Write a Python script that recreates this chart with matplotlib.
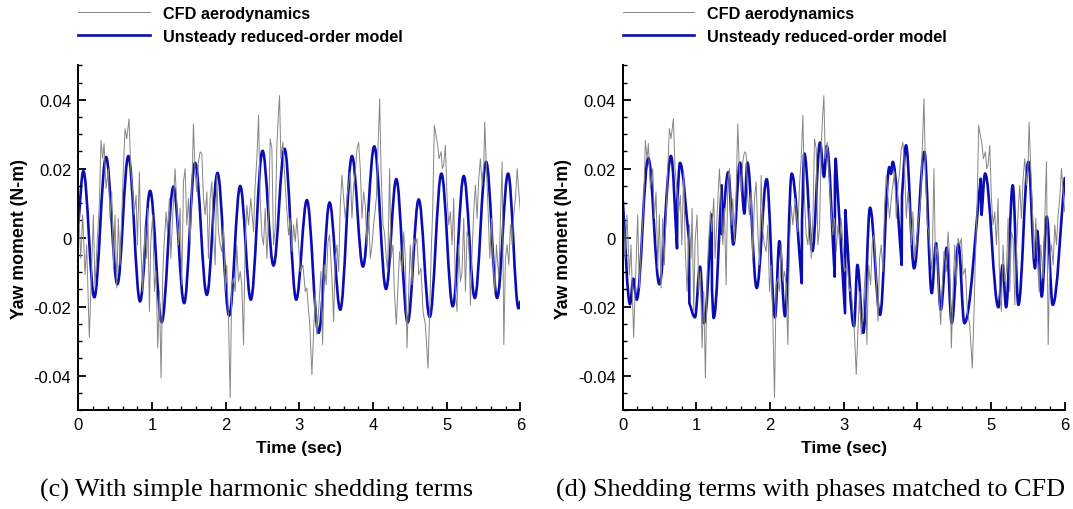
import numpy as np
import matplotlib
matplotlib.use("Agg")
import matplotlib.pyplot as plt
from matplotlib.path import Path
from matplotlib.patches import PathPatch
from matplotlib.ticker import MultipleLocator, FixedLocator, FixedFormatter

# CFD yaw moment (same signal in both panels)
cfd_t = [0.000, 0.032, 0.059, 0.091, 0.113, 0.149, 0.172, 0.204, 0.226, 0.258, 0.285, 0.308, 0.331, 0.349,
         0.376, 0.408, 0.430, 0.453, 0.476, 0.498, 0.521, 0.543, 0.566, 0.589, 0.611, 0.634, 0.657, 0.688,
         0.711, 0.738, 0.756, 0.784, 0.802, 0.829, 0.847, 0.874, 0.906, 0.928, 0.942, 0.965, 0.983, 1.010,
         1.033, 1.055, 1.078, 1.101, 1.123, 1.146, 1.164, 1.191, 1.209, 1.236, 1.255, 1.282, 1.313, 1.336,
         1.359, 1.381, 1.404, 1.427, 1.449, 1.472, 1.495, 1.517, 1.540, 1.562, 1.585, 1.608, 1.630, 1.653,
         1.676, 1.698, 1.721, 1.744, 1.766, 1.789, 1.812, 1.834, 1.857, 1.880, 1.902, 1.925, 1.947, 1.970,
         1.993, 2.015, 2.038, 2.061, 2.083, 2.106, 2.129, 2.151, 2.174, 2.197, 2.219, 2.242, 2.264, 2.287,
         2.310, 2.341, 2.378, 2.400, 2.423, 2.446, 2.468, 2.491, 2.514, 2.536, 2.559, 2.582, 2.604, 2.627,
         2.649, 2.672, 2.695, 2.717, 2.731, 2.749, 2.776, 2.794, 2.822, 2.853, 2.876, 2.899, 2.921, 2.944,
         2.966, 2.989, 3.012, 3.048, 3.080, 3.102, 3.125, 3.139, 3.170, 3.193, 3.216, 3.238, 3.261, 3.293,
         3.315, 3.338, 3.365, 3.388, 3.410, 3.442, 3.465, 3.487, 3.510, 3.533, 3.555, 3.578, 3.601, 3.623,
         3.655, 3.691, 3.714, 3.737, 3.759, 3.782, 3.804, 3.827, 3.850, 3.872, 3.895, 3.918, 3.940, 3.963,
         3.986, 4.008, 4.045, 4.062, 4.090, 4.108, 4.135, 4.153, 4.180, 4.198, 4.225, 4.244, 4.271, 4.289,
         4.316, 4.339, 4.361, 4.393, 4.416, 4.438, 4.461, 4.484, 4.506, 4.529, 4.552, 4.575, 4.597, 4.620,
         4.651, 4.678, 4.710, 4.746, 4.769, 4.787, 4.810, 4.832, 4.855, 4.878, 4.896, 4.923, 4.941, 4.959,
         4.982, 5.005, 5.027, 5.050, 5.073, 5.095, 5.118, 5.140, 5.163, 5.186, 5.208, 5.231, 5.254, 5.276,
         5.299, 5.322, 5.344, 5.367, 5.389, 5.412, 5.435, 5.457, 5.480, 5.503, 5.516, 5.539, 5.562, 5.584,
         5.607, 5.629, 5.652, 5.675, 5.707, 5.729, 5.752, 5.775, 5.797, 5.820, 5.843, 5.865, 5.888, 5.910,
         5.933, 5.956, 5.978, 6.000]
cfd_v = [0.0104, -0.0060, 0.0066, -0.0108, -0.0021, -0.0289, -0.0137, 0.0066, -0.0146, -0.0002, 0.0094,
         0.0282, 0.0229, 0.0273, 0.0143, 0.0200, 0.0056, 0.0133, -0.0089, 0.0066, -0.0146, 0.0056, -0.0079,
         0.0066, 0.0200, 0.0316, 0.0287, 0.0345, 0.0200, 0.0133, 0.0066, 0.0123, -0.0021, 0.0191, -0.0021,
         -0.0156, 0.0037, -0.0060, 0.0085, -0.0214, -0.0012, 0.0066, -0.0156, -0.0098, -0.0320, -0.0156,
         -0.0407, -0.0108, -0.0021, 0.0075, 0.0017, 0.0114, -0.0060, 0.0066, 0.0200, 0.0104, -0.0021, 0.0085,
         -0.0137, 0.0162, 0.0200, 0.0037, 0.0114, -0.0012, 0.0133, 0.0330, 0.0191, 0.0133, 0.0220, 0.0249,
         0.0244, 0.0114, 0.0066, 0.0133, -0.0060, 0.0114, 0.0162, 0.0017, -0.0079, 0.0181, 0.0017, -0.0021,
         -0.0040, 0.0037, -0.0156, -0.0079, -0.0233, -0.0464, -0.0137, -0.0118, -0.0156, -0.0021, -0.0127,
         -0.0098, -0.0137, -0.0310, -0.0021, 0.0094, 0.0037, 0.0114, 0.0017, 0.0152, 0.0229, 0.0355, 0.0114,
         0.0008, -0.0021, 0.0085, -0.0060, 0.0056, 0.0287, 0.0258, -0.0021, 0.0027, 0.0268, 0.0364, 0.0412,
         0.0229, 0.0277, 0.0210, 0.0104, 0.0008, 0.0056, -0.0040, 0.0037, -0.0012, 0.0056, -0.0021, -0.0098,
         -0.0079, -0.0156, -0.0146, -0.0214, -0.0243, -0.0397, -0.0272, -0.0156, -0.0281, -0.0214, -0.0098,
         -0.0310, -0.0079, -0.0137, -0.0012, 0.0008, -0.0118, -0.0243, -0.0060, -0.0021, -0.0098, 0.0094,
         0.0181, 0.0114, 0.0056, 0.0133, 0.0191, 0.0056, 0.0152, 0.0191, 0.0258, 0.0277, 0.0200, 0.0056,
         0.0133, 0.0094, -0.0021, 0.0075, -0.0060, -0.0021, 0.0037, 0.0114, 0.0229, 0.0403, 0.0200, 0.0037,
         0.0017, -0.0060, -0.0098, 0.0200, -0.0060, -0.0021, -0.0156, -0.0252, -0.0137, -0.0040, -0.0098,
         0.0017, -0.0060, -0.0320, -0.0156, -0.0021, -0.0137, -0.0002, -0.0021, -0.0002, -0.0108, -0.0089,
         -0.0214, -0.0252, -0.0378, -0.0214, -0.0060, 0.0085, 0.0326, 0.0297, 0.0268, 0.0229, 0.0249, 0.0200,
         0.0210, 0.0268, 0.0114, 0.0037, 0.0075, -0.0021, 0.0114, -0.0156, -0.0214, -0.0021, -0.0127, -0.0098,
         0.0056, -0.0156, 0.0017, -0.0002, -0.0195, -0.0040, 0.0075, 0.0152, 0.0056, 0.0171, 0.0229, 0.0152,
         0.0210, 0.0335, 0.0200, 0.0075, -0.0060, 0.0056, -0.0060, -0.0156, -0.0021, -0.0118, 0.0056, 0.0220,
         -0.0310, -0.0060, -0.0021, -0.0079, 0.0037, -0.0021, 0.0066, 0.0114, 0.0200, 0.0133, 0.0075]

# (c) simple harmonic model: start, peaks/troughs, end
rom_c_t = [0.000, 0.068, 0.217, 0.376, 0.530, 0.679, 0.838, 0.974, 1.132, 1.291, 1.436, 1.585, 1.744,
           1.889, 2.047, 2.197, 2.341, 2.500, 2.649, 2.799, 2.957, 3.102, 3.261, 3.410, 3.555, 3.714,
           3.863, 4.017, 4.176, 4.316, 4.470, 4.620, 4.769, 4.928, 5.082, 5.231, 5.381, 5.535, 5.684,
           5.833, 5.975, 6.000]
rom_c_v = [0.0040, 0.0193, -0.0173, 0.0234, -0.0135, 0.0237, -0.0185, 0.0136, -0.0245, 0.0148, -0.0190,
           0.0217, -0.0166, 0.0188, -0.0226, 0.0150, -0.0180, 0.0252, -0.0081, 0.0258, -0.0180, 0.0109,
           -0.0276, 0.0102, -0.0209, 0.0237, -0.0084, 0.0265, -0.0149, 0.0170, -0.0246, 0.0111, -0.0230,
           0.0186, -0.0199, 0.0179, -0.0175, 0.0220, -0.0175, 0.0186, -0.0205, -0.0185]

# (d) phase-matched model: start, peaks/troughs, phase jumps (pairs of close times), end
rom_d_t = [0.000, 0.100, 0.145, 0.190, 0.348, 0.498, 0.656, 0.738, 0.742, 0.778, 0.900, 0.905, 0.982,
           1.050, 1.104, 1.208, 1.212, 1.235, 1.344, 1.348, 1.434, 1.502, 1.593, 1.652, 1.692, 1.819,
           1.955, 2.068, 2.127, 2.204, 2.294, 2.430, 2.434, 2.466, 2.575, 2.679, 2.733, 2.769, 2.878,
           2.882, 2.892, 3.018, 3.022, 3.140, 3.186, 3.267, 3.357, 3.493, 3.620, 3.642, 3.665, 3.787,
           3.791, 3.846, 3.955, 4.095, 4.195, 4.253, 4.317, 4.398, 4.466, 4.557, 4.638, 4.860, 4.872,
           4.919, 5.100, 5.158, 5.204, 5.294, 5.371, 5.507, 5.597, 5.625, 5.688, 5.756, 5.837, 6.000]
rom_d_v = [0.0114, -0.0193, -0.0119, -0.0180, 0.0231, -0.0135, 0.0237, -0.0031, 0.0110, 0.0217, -0.0005,
           -0.0190, -0.0231, -0.0084, -0.0248, 0.0067, -0.0150, -0.0233, 0.0152, 0.0010, 0.0190, -0.0020,
           0.0218, 0.0070, 0.0218, -0.0146, 0.0170, -0.0231, -0.0010, -0.0228, 0.0186, -0.0132, 0.0050,
           0.0244, -0.0039, 0.0276, 0.0176, 0.0266, -0.0113, 0.0180, 0.0229, -0.0219, 0.0080, -0.0257,
           -0.0079, -0.0276, 0.0087, -0.0224, 0.0205, 0.0185, 0.0220, -0.0079, 0.0120, 0.0268, -0.0089,
           0.0249, -0.0161, -0.0016, -0.0209, -0.0029, -0.0248, -0.0019, -0.0248, 0.0171, 0.0066, 0.0186,
           -0.0202, -0.0079, -0.0202, 0.0152, -0.0195, 0.0220, -0.0089, 0.0020, -0.0171, 0.0061, -0.0195,
           0.0173]

y_ticks = [-0.04, -0.02, 0.0, 0.02, 0.04]
y_labels = ["-0.04", "-0.02", "0", "0.02", "0.04"]
captions = ["(c) With simple harmonic shedding terms",
            "(d) Shedding terms with phases matched to CFD"]

GRAY = "#858585"
BLUE = "#0c0cb4"
JUMP = 0.012


def smooth_path(ts, vs):
    # cubic segments between read extrema, flat at each extremum
    n = len(ts)
    steep = [False] * n
    steep[0] = steep[-1] = True
    for i in range(n - 1):
        if ts[i + 1] - ts[i] < JUMP:
            steep[i] = steep[i + 1] = True
    verts = [(ts[0], vs[0])]
    codes = [Path.MOVETO]
    for i in range(n - 1):
        t0, v0, t1, v1 = ts[i], vs[i], ts[i + 1], vs[i + 1]
        dt = t1 - t0
        if dt < JUMP:
            c1, c2 = (t0, v0), (t1, v1)
        else:
            c1 = (t0 + dt / 3, v0 + (v1 - v0) / 3) if steep[i] else (t0 + 0.364 * dt, v0)
            c2 = (t1 - dt / 3, v1 - (v1 - v0) / 3) if steep[i + 1] else (t1 - 0.364 * dt, v1)
        verts += [c1, c2, (t1, v1)]
        codes += [Path.CURVE4] * 3
    return Path(verts, codes)


fig = plt.figure(figsize=(10.73, 5.10), dpi=100)
plt.rcParams["font.family"] = ["Liberation Sans", "DejaVu Sans"]

panels = [(0.0730, rom_c_t, rom_c_v, captions[0], 0.2395),
          (0.5803, rom_d_t, rom_d_v, captions[1], 0.7550)]
for left, rt, rv, cap, cap_x in panels:
    ax = fig.add_axes([left, 0.194, 0.412, 0.676])
    ax.plot(cfd_t, cfd_v, color=GRAY, lw=0.7, label="CFD aerodynamics")
    ax.add_patch(PathPatch(smooth_path(rt, rv), facecolor="none", edgecolor=BLUE, lw=1.9,
                           capstyle="round", joinstyle="round"))
    ax.plot([], [], color=BLUE, lw=1.9, label="Unsteady reduced-order model")

    ax.set_xlim(0, 6)
    ax.set_ylim(-0.05, 0.05)
    for s in ["top", "right"]:
        ax.spines[s].set_visible(False)
    for s in ["left", "bottom"]:
        ax.spines[s].set_linewidth(1.4)
    ax.xaxis.set_major_locator(MultipleLocator(1))
    ax.xaxis.set_minor_locator(MultipleLocator(0.2))
    ax.yaxis.set_major_locator(FixedLocator(y_ticks))
    ax.yaxis.set_major_formatter(FixedFormatter(y_labels))
    ax.yaxis.set_minor_locator(MultipleLocator(0.005))
    ax.tick_params(which="major", direction="in", length=6, width=1.3, labelsize=12, pad=5)
    ax.tick_params(which="minor", direction="in", length=3, width=1.0)

    ax.set_xlabel("Time (sec)", fontsize=12.5, fontweight="bold", labelpad=6)
    ax.set_ylabel("Yaw moment (N-m)", fontsize=12.8, fontweight="bold", labelpad=4)

    ax.legend(loc="upper left", bbox_to_anchor=(left, 0.987), bbox_transform=fig.transFigure,
              frameon=False, borderpad=0, borderaxespad=0, handlelength=4.4, handletextpad=0.8,
              labelspacing=0.5, prop={"weight": "bold", "size": 11.7})

    fig.text(cap_x, 0.039, cap, ha="center", va="center", fontsize=18.8,
             family=["Liberation Serif", "DejaVu Serif"])

fig.savefig("out.png", dpi=100)
